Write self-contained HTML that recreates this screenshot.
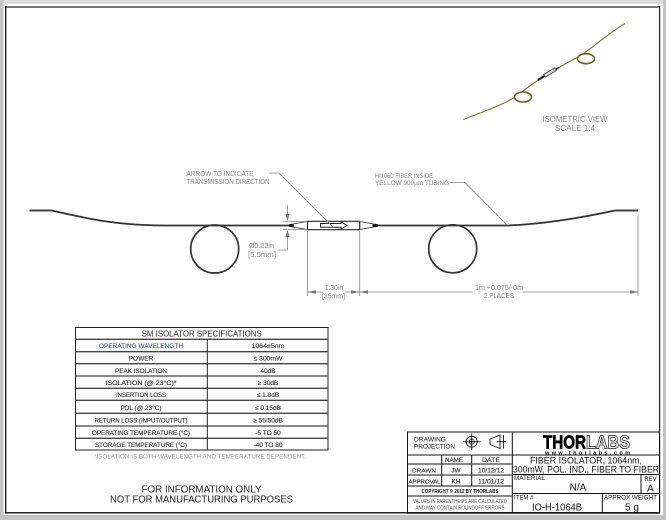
<!DOCTYPE html>
<html><head><meta charset="utf-8"><style>
html,body{margin:0;padding:0;background:#fff}
svg{display:block;filter:blur(0.3px)}
text{font-family:"Liberation Sans",sans-serif}
.g{fill:#858585;font-size:7px}
.t{fill:#222;font-size:6.5px;text-anchor:middle;stroke:#222;stroke-width:0.1}
.b{fill:#111;font-size:6.5px}
</style></head><body>
<svg width="666" height="520" viewBox="0 0 666 520" xmlns="http://www.w3.org/2000/svg">
<rect width="666" height="520" fill="#fff"/>
<rect x="0" y="0" width="666" height="4" fill="#dcdcdc"/>
<rect x="0" y="0" width="3.5" height="520" fill="#c4c4c4"/>
<rect x="663" y="0" width="3" height="520" fill="#c4c4c4"/>
<rect x="0" y="515" width="666" height="5" fill="#c4c4c4"/>
<rect x="6" y="6" width="654" height="2" fill="#777"/>
<rect x="5" y="6" width="1.4" height="508" fill="#222"/>
<rect x="659" y="6" width="1.2" height="508" fill="#222"/>
<rect x="5" y="512" width="655" height="1.3" fill="#222"/>
<rect x="5" y="513.3" width="655" height="0.8" fill="#999"/>

<!-- isometric -->
<path d="M463.5 119.5C482 112 500 106 513.5 98L538 80L558 68L578 57C590 50 610 32 625 23.5" fill="none" stroke="#77773a" stroke-width="1.1"/>
<ellipse cx="523" cy="97" rx="8.5" ry="5" fill="#fff" stroke="#66662a" stroke-width="1.6"/>
<ellipse cx="586" cy="58.7" rx="8.5" ry="5" fill="#fff" stroke="#66662a" stroke-width="1.6"/>
<path d="M538 80L546 75" stroke="#111" stroke-width="2"/>
<path d="M553 71L559 67.5" stroke="#111" stroke-width="1.5"/>
<path d="M544 76L556 69" stroke="#555" stroke-width="4"/>
<path d="M545 75.5L555 69.5" stroke="#ddd" stroke-width="2"/>
<text class="g" x="575" y="122" text-anchor="middle" textLength="65" lengthAdjust="spacingAndGlyphs" style="font-size:8px">ISOMETRIC VIEW</text>
<text class="g" x="575" y="131" text-anchor="middle" textLength="40" lengthAdjust="spacingAndGlyphs" style="font-size:8px">SCALE 1:4</text>

<!-- fiber -->
<path d="M29.5 210.5H52" stroke="#444" stroke-width="2" fill="none"/>
<path d="M52 210.5C85 218 115 225.5 165 225.5H290" stroke="#333" stroke-width="1.8" fill="none"/>
<path d="M377 225.5H508C545 224 585 217 615 210.5" stroke="#333" stroke-width="1.8" fill="none"/>
<path d="M615 210.5H638" stroke="#444" stroke-width="2" fill="none"/>
<circle cx="214.7" cy="249" r="24" fill="none" stroke="#333" stroke-width="1.7"/>
<circle cx="452.7" cy="248.8" r="24" fill="none" stroke="#333" stroke-width="1.7"/>

<!-- isolator -->
<path d="M290 224.5L307.5 221.5V229.5L290 226.5Z" fill="#fff" stroke="#333" stroke-width="0.8"/>
<path d="M359.7 221.5L376.5 224.5V226.5L359.7 229.5Z" fill="#fff" stroke="#333" stroke-width="0.8"/>
<path d="M289 225.5H294M372.5 225.5H378" stroke="#000" stroke-width="2.2"/>
<rect x="307.5" y="221.3" width="52.2" height="8.4" fill="#fff" stroke="#222" stroke-width="1.1"/>
<path d="M320.5 223.5H341V221.8L347 225.5L341 229V227.3H320.5Z" fill="#fff" stroke="#222" stroke-width="1"/>

<!-- labels and leaders -->
<text class="g" x="186.5" y="176" textLength="67" lengthAdjust="spacingAndGlyphs">ARROW TO INDICATE</text>
<text class="g" x="186.5" y="184" textLength="83" lengthAdjust="spacingAndGlyphs">TRANSMISSION DIRECTION</text>
<path d="M269 173H279L333 227" stroke="#888" stroke-width="0.8" fill="none"/>
<text class="g" x="375" y="178" textLength="58" lengthAdjust="spacingAndGlyphs" style="font-size:6.5px">HI1060 FIBER INSIDE</text>
<text class="g" x="375" y="185" textLength="74" lengthAdjust="spacingAndGlyphs" style="font-size:6.5px">YELLOW 900µm TUBING</text>
<path d="M450 182.5H465L507 225" stroke="#888" stroke-width="0.8" fill="none"/>

<!-- dims -->
<g stroke="#888" stroke-width="0.8" fill="none">
<path d="M283 221.5H307M283 229.5H307"/>
<path d="M287.5 205V215M287.5 236V250H278"/>
<path d="M307.5 231V296M359.7 231V296M638 215V296"/>
<path d="M307.5 292H323M345 292H372M369 292H473M523 292H638"/>
</g>
<g fill="#777">
<path d="M287.5 221L285.5 214H289.5Z"/>
<path d="M287.5 230L285.5 237H289.5Z"/>
<path d="M307.5 292L316 290.3V293.7Z"/>
<path d="M359.7 292L351 290.3V293.7Z"/>
<path d="M359.7 292L368 290.3V293.7Z"/>
<path d="M638 292L630 290.3V293.7Z"/>
</g>
<text class="g" x="249" y="248" textLength="25" lengthAdjust="spacingAndGlyphs">Ø0.22in</text>
<text class="g" x="248" y="257" textLength="28" lengthAdjust="spacingAndGlyphs">[5.5mm]</text>
<text class="g" x="325" y="290" textLength="18" lengthAdjust="spacingAndGlyphs">1.30in</text>
<text class="g" x="322" y="298.5" textLength="23" lengthAdjust="spacingAndGlyphs">[35mm]</text>
<text class="g" x="475" y="290" textLength="48" lengthAdjust="spacingAndGlyphs">1m +0.075/-0m</text>
<text class="g" x="484" y="298" textLength="30" lengthAdjust="spacingAndGlyphs">2 PLACES</text>

<!-- spec table -->
<g fill="none">
<path d="M75 339.3H328M75 351.7H328M75 363.7H328M75 376H328M75 388.3H328M75 400.3H328M75 413.3H328M75 426H328M75 438.3H328" stroke-width="1.3" stroke="#444"/>
<rect x="75.5" y="327.5" width="252.5" height="122.5" stroke-width="1" stroke="#222"/>
<path d="M207.3 339.3V450" stroke-width="1" stroke="#222"/>
</g>
<text x="201.7" y="336.5" text-anchor="middle" fill="#222" style="font-size:8px" textLength="120" lengthAdjust="spacingAndGlyphs">SM ISOLATOR SPECIFICATIONS</text>
<text class="t" x="141" y="348" style="fill:#3f4f70;stroke:#3f4f70" textLength="84" lengthAdjust="spacingAndGlyphs">OPERATING WAVELENGTH</text>
<text class="t" x="268" y="348" textLength="33" lengthAdjust="spacingAndGlyphs">1064±5nm</text>
<text class="t" x="141" y="360.5">POWER</text>
<text class="t" x="268" y="360.5" textLength="29" lengthAdjust="spacingAndGlyphs">≤ 300mW</text>
<text class="t" x="141" y="373" textLength="52" lengthAdjust="spacingAndGlyphs">PEAK ISOLATION</text>
<text class="t" x="268" y="373">40dB</text>
<text class="t" x="141" y="385" textLength="71" lengthAdjust="spacingAndGlyphs">ISOLATION (@ 23°C)*</text>
<text class="t" x="268" y="385">≥ 30dB</text>
<text class="t" x="141" y="397" textLength="50" lengthAdjust="spacingAndGlyphs">INSERTION LOSS</text>
<text class="t" x="268" y="397">≤ 1.8dB</text>
<text class="t" x="141" y="410" textLength="41" lengthAdjust="spacingAndGlyphs">PDL (@ 23°C)</text>
<text class="t" x="268" y="410">≤ 0.15dB</text>
<text class="t" x="141" y="422.5" textLength="93" lengthAdjust="spacingAndGlyphs">RETURN LOSS (INPUT/OUTPUT)</text>
<text class="t" x="268" y="422.5">≥ 55/50dB</text>
<text class="t" x="141" y="435" textLength="98" lengthAdjust="spacingAndGlyphs">OPERATING TEMPERATURE (°C)</text>
<text class="t" x="268" y="435">-5 TO 50</text>
<text class="t" x="141" y="447" textLength="92" lengthAdjust="spacingAndGlyphs">STORAGE TEMPERATURE (°C)</text>
<text class="t" x="268" y="447">-40 TO 80</text>
<text x="94" y="458.5" fill="#a0a0a0" style="font-size:6.5px" textLength="212" lengthAdjust="spacingAndGlyphs">*ISOLATION IS BOTH WAVELENGTH AND TEMPERATURE DEPENDENT.</text>
<text x="201.5" y="492.5" text-anchor="middle" fill="#222" style="font-size:10px" textLength="120" lengthAdjust="spacingAndGlyphs">FOR INFORMATION ONLY</text>
<text x="201.5" y="502.5" text-anchor="middle" fill="#222" style="font-size:10px" textLength="183" lengthAdjust="spacingAndGlyphs">NOT FOR MANUFACTURING PURPOSES</text>

<!-- title block -->
<g stroke="#111" stroke-width="1" fill="none">
<rect x="407.5" y="432" width="252" height="81"/>
<path d="M512.3 432V513"/>
<path d="M407.5 455H512.3M407.5 464H512.3M407.5 475H512.3M407.5 486H512.3M407.5 496H512.3"/>
<path d="M441.7 455V486M471.7 455V486"/>
<path d="M512.3 455H660M512.3 474.5H660M512.3 493.5H660"/>
<path d="M641 474.5V493.5M602.3 493.5V513"/>
</g>
<text class="b" x="414" y="441.5" textLength="32" lengthAdjust="spacingAndGlyphs">DRAWING</text>
<text class="b" x="414" y="448.5" textLength="41" lengthAdjust="spacingAndGlyphs">PROJECTION</text>
<g fill="none" stroke="#111" stroke-width="0.9">
<circle cx="471.7" cy="441.7" r="5.5"/><circle cx="471.7" cy="441.7" r="2.5"/>
<path d="M463 441.7H480.5M471.7 433.5V450"/>
<path d="M490 439L500 435V448.5L490 444.5ZM497 441.7H506M503.5 435V448.5"/>
</g>
<text class="t" x="454" y="462" textLength="18" lengthAdjust="spacingAndGlyphs">NAME</text>
<text class="t" x="491" y="462" textLength="18" lengthAdjust="spacingAndGlyphs">DATE</text>
<text class="t" x="424" y="472.5" style="font-size:5.5px" textLength="24" lengthAdjust="spacingAndGlyphs">DRAWN</text>
<text class="t" x="456" y="472.5">JW</text>
<text class="t" x="491" y="472.5" textLength="26" lengthAdjust="spacingAndGlyphs">10/12/12</text>
<text class="t" x="424.5" y="483.5" style="font-size:5.5px" textLength="32" lengthAdjust="spacingAndGlyphs">APPROVAL</text>
<text class="t" x="456" y="483.5">KH</text>
<text class="t" x="491" y="483.5" textLength="26" lengthAdjust="spacingAndGlyphs">11/01/12</text>
<text x="460" y="493" text-anchor="middle" fill="#111" font-weight="bold" style="font-size:5px" textLength="77" lengthAdjust="spacingAndGlyphs">COPYRIGHT © 2012 BY THORLABS</text>
<text x="460" y="503" text-anchor="middle" fill="#555" style="font-size:5px" textLength="94" lengthAdjust="spacingAndGlyphs">VALUES IN PARENTHESIS ARE CALCULATED</text>
<text x="460" y="509.5" text-anchor="middle" fill="#555" style="font-size:5px" textLength="89" lengthAdjust="spacingAndGlyphs">AND MAY CONTAIN ROUNDOFF ERRORS</text>

<text x="543" y="448.5" font-weight="bold" fill="#000" stroke="#000" stroke-width="0.7" style="font-size:18.5px" textLength="43" lengthAdjust="spacingAndGlyphs">THOR</text>
<text x="586" y="448.5" font-weight="bold" fill="#fff" stroke="#111" stroke-width="0.8" style="font-size:18.5px" textLength="44" lengthAdjust="spacingAndGlyphs">LABS</text>
<text x="545" y="454.3" font-weight="bold" fill="#111" style="font-size:5.5px" textLength="85">www.thorlabs.com</text>

<text x="586" y="463.5" text-anchor="middle" fill="#111" style="font-size:9px" textLength="112" lengthAdjust="spacingAndGlyphs">FIBER ISOLATOR, 1064nm,</text>
<text x="586" y="472.5" text-anchor="middle" fill="#111" style="font-size:9px" textLength="146" lengthAdjust="spacingAndGlyphs">300mW, POL. IND., FIBER TO FIBER</text>
<text x="514" y="480" fill="#111" style="font-size:6px" textLength="31" lengthAdjust="spacingAndGlyphs">MATERIAL</text>
<text x="578" y="490.5" text-anchor="middle" fill="#111" style="font-size:10px">N/A</text>
<text x="650.5" y="481" text-anchor="middle" fill="#111" style="font-size:6px">REV</text>
<text x="650.5" y="491.5" text-anchor="middle" fill="#111" style="font-size:10px">A</text>
<text x="514" y="499.5" fill="#111" style="font-size:6px">ITEM #</text>
<text x="557" y="510.5" text-anchor="middle" fill="#111" style="font-size:10px" textLength="50" lengthAdjust="spacingAndGlyphs">IO-H-1064B</text>
<text x="604" y="499.5" fill="#111" style="font-size:6px" textLength="53" lengthAdjust="spacingAndGlyphs">APPROX WEIGHT</text>
<text x="632" y="510.5" text-anchor="middle" fill="#111" style="font-size:10px">5 g</text>
</svg>
</body></html>
